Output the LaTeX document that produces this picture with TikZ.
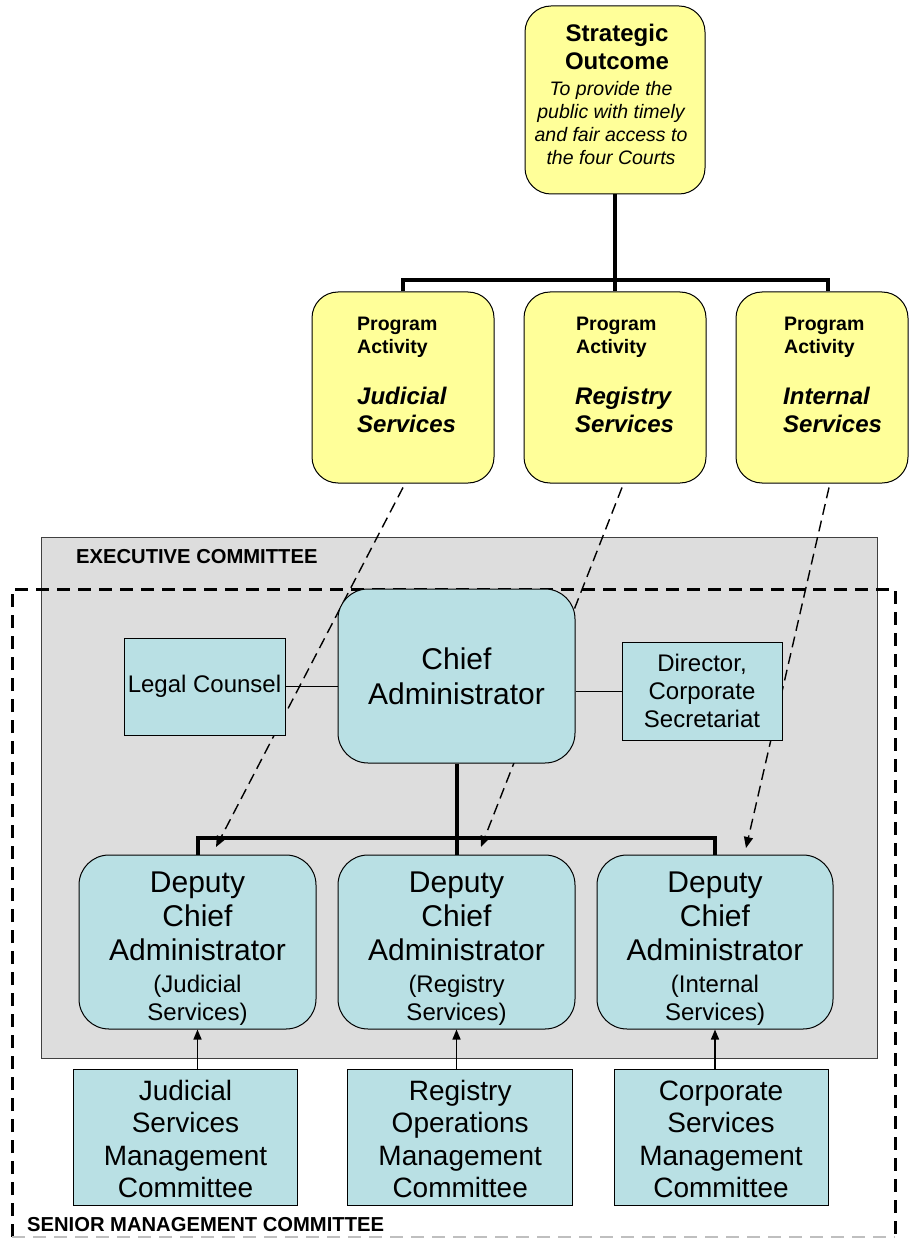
\documentclass[tikz,border=0pt]{standalone}
\usepackage{fontspec}
\setmainfont{Liberation Sans}
\usetikzlibrary{arrows.meta,calc}
\pgfdeclarelayer{back}
\pgfdeclarelayer{mid}
\pgfsetlayers{back,mid,main}
\definecolor{paleyellow}{RGB}{255,255,153}
\definecolor{paleblue}{RGB}{185,224,228}
\definecolor{panelgray}{RGB}{221,221,221}
\newcommand{\fsz}[2]{\fontsize{#1}{#2}\selectfont}
\begin{document}
\begin{tikzpicture}[x=1pt,y=-1pt,
  yelbox/.style={draw=black, line width=1pt, fill=paleyellow, rounded corners=26pt, inner sep=0pt},
  bluebox/.style={draw=black, line width=1pt, fill=paleblue, inner sep=0pt, align=center},
  roundblue/.style={bluebox, rounded corners=30pt},
  trunk/.style={line width=4pt},
  link/.style={line width=1pt},
  dasharrow/.style={line width=1.4pt, dash pattern=on 11pt off 6pt, -{Triangle[length=11pt,width=9pt]}},
  uparrow/.style={line width=1.5pt, -{Triangle[length=10pt,width=8pt]}},
  txt/.style={inner sep=0pt, align=center},
  ltxt/.style={inner sep=0pt, align=left, anchor=west},
  heading/.style={inner sep=0pt, anchor=west, font=\fsz{20.2}{23}\bfseries},
  smcline/.style={line width=3pt, dash pattern=on 13pt off 8pt}
]
\useasboundingbox (0,0) rectangle (909,1238);

% ---------- yellow boxes ----------
\node[yelbox, minimum width=180pt, minimum height=188pt] (so) at (615,100) {};
\node[txt, font=\fsz{24}{27.5}\bfseries] (sotitle) at (617,47) {Strategic\\Outcome};
\node[txt, font=\fsz{19.5}{23}\itshape] (sotext) at (611,123.5) {To provide the\\public with timely\\and fair access to\\the four Courts};

\node[yelbox, minimum width=182pt, minimum height=191pt] (pa1) at (403,387.5) {};
\node[yelbox, minimum width=182pt, minimum height=191pt] (pa2) at (615,387.5) {};
\node[yelbox, minimum width=172pt, minimum height=191pt] (pa3) at (822,387.5) {};

\node[ltxt, font=\fsz{19.5}{23.5}\bfseries] (pa1a) at (357,337.5) {Program\\Activity};
\node[ltxt, font=\fsz{24}{28.5}\bfseries\itshape] (pa1b) at (357,410) {Judicial\\Services};
\node[ltxt, font=\fsz{19.5}{23.5}\bfseries] (pa2a) at (576,337.5) {Program\\Activity};
\node[ltxt, font=\fsz{24}{28.5}\bfseries\itshape] (pa2b) at (575,410) {Registry\\Services};
\node[ltxt, font=\fsz{19.5}{23.5}\bfseries] (pa3a) at (784,337.5) {Program\\Activity};
\node[ltxt, font=\fsz{24}{28.5}\bfseries\itshape] (pa3b) at (783,410) {Internal\\Services};

% ---------- executive committee panel ----------
\begin{pgfonlayer}{back}
\node[draw=black!75, line width=1pt, fill=panelgray, minimum width=836pt, minimum height=521pt, inner sep=0pt] (exec) at (459,797.5) {};
\end{pgfonlayer}
\node[heading] (execlabel) at (76,556.5) {EXECUTIVE COMMITTEE};

% ---------- blue boxes ----------
\node[roundblue, minimum width=237pt, minimum height=174pt, font=\fsz{30}{35}] (chief) at (456.5,676) {Chief\\Administrator};
\node[bluebox, minimum width=161pt, minimum height=97pt, font=\fsz{24}{28}] (lc) at (204.5,686.5) {Legal Counsel};
\node[bluebox, minimum width=160pt, minimum height=98pt, font=\fsz{24}{28}] (dir) at (702,691) {Director,\\Corporate\\Secretariat};

\node[roundblue, minimum width=237pt, minimum height=174pt, font=\fsz{30}{34}] (dca1) at (197.5,942) {\rule{0pt}{34pt}Deputy\\Chief\\Administrator\\[-2pt]{\fsz{24}{28}(Judicial}\\[-6pt]{\fsz{24}{28}Services)}};
\node[roundblue, minimum width=237pt, minimum height=174pt, font=\fsz{30}{34}] (dca2) at (456.5,942) {\rule{0pt}{34pt}Deputy\\Chief\\Administrator\\[-2pt]{\fsz{24}{28}(Registry}\\[-6pt]{\fsz{24}{28}Services)}};
\node[roundblue, minimum width=236pt, minimum height=174pt, font=\fsz{30}{34}] (dca3) at (715,942) {\rule{0pt}{34pt}Deputy\\Chief\\Administrator\\[-2pt]{\fsz{24}{28}(Internal}\\[-6pt]{\fsz{24}{28}Services)}};

\node[bluebox, minimum width=224pt, minimum height=136pt, font=\fsz{28}{32.5}] (jsmc) at (185.5,1137) {\rule{0pt}{24pt}Judicial\\Services\\Management\\Committee};
\node[bluebox, minimum width=225pt, minimum height=136pt, font=\fsz{28}{32.5}] (romc) at (460.2,1137) {\rule{0pt}{24pt}Registry\\Operations\\Management\\Committee};
\node[bluebox, minimum width=214pt, minimum height=136pt, font=\fsz{28}{32.5}] (csmc) at (721,1137) {\rule{0pt}{24pt}Corporate\\Services\\Management\\Committee};

\node[heading] (smclabel) at (27,1225) {SENIOR MANAGEMENT COMMITTEE};

% ---------- senior management dashed frame ----------
\coordinate (smcbl) at (12,1237);
\coordinate (smctl) at (12,589);
\coordinate (smctr) at (895,589);
\coordinate (smcbr) at (895,1237);
\begin{pgfonlayer}{mid}
\draw[smcline] (smcbl) -- (smctl) -- (smctr) -- (smcbr);
\draw[smcline, draw=black!25, line width=2pt] (smcbl) -- (smcbr);
\end{pgfonlayer}

% ---------- trunk connectors ----------
\coordinate (bus1) at (615,280);
\draw[trunk] (so.south) -- (bus1);
\draw[trunk] (pa1.north) |- (bus1) -| ([xshift=6pt]pa3.north);
\draw[trunk] (bus1) -- (pa2.north);

\coordinate (bus2) at (456.5,838);
\draw[trunk] (chief.south) -- (dca2.north);
\draw[trunk] (dca1.north) |- (bus2) -| (dca3.north);

\draw[link] (lc.east) -- (lc.east -| chief.west);
\draw[link] (dir.west -| chief.east) -- (dir.west);

% ---------- dashed mapping arrows ----------
\coordinate (t1) at (216,847);
\coordinate (t2) at (481,847);
\coordinate (t3) at (746,848);
\begin{pgfonlayer}{mid}
\draw[dasharrow] ([yshift=-4pt]pa1.south) -- (t1);
\draw[dasharrow] ([xshift=7pt,yshift=-4pt]pa2.south) -- (t2);
\draw[dasharrow] ([xshift=7pt,yshift=-4pt]pa3.south) -- (t3);
\end{pgfonlayer}

% ---------- committee arrows ----------
\draw[uparrow] (dca1.south |- jsmc.north) -- (dca1.south);
\draw[uparrow] (dca2.south |- romc.north) -- (dca2.south);
\draw[uparrow] (dca3.south |- csmc.north) -- (dca3.south);
\end{tikzpicture}
\end{document}
